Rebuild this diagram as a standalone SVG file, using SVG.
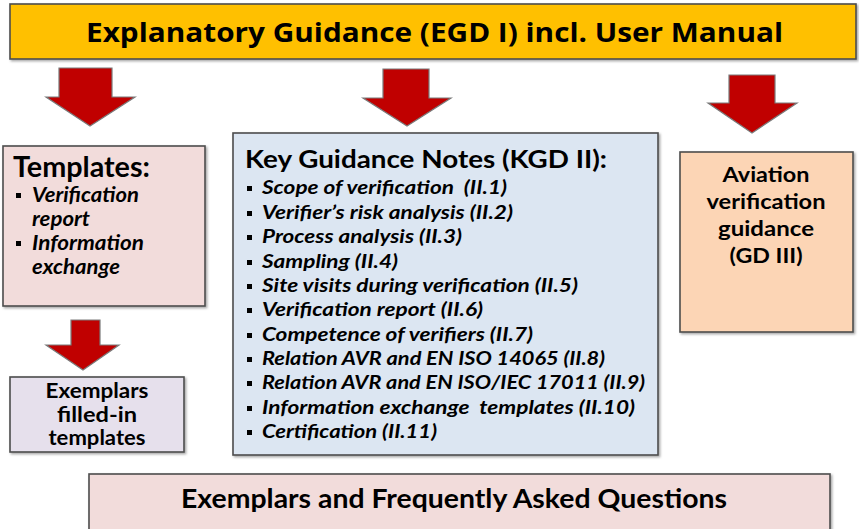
<svg xmlns="http://www.w3.org/2000/svg" width="859" height="529" viewBox="0 0 859 529">
<defs>
<filter id="sh" x="-5%" y="-5%" width="110%" height="115%">
<feDropShadow dx="1.5" dy="1.5" stdDeviation="1" flood-color="#000" flood-opacity="0.35"/>
</filter>
<style>
.box{stroke:#4d4d4d;stroke-width:1.6;filter:url(#sh)}
.arrow{fill:#C00000;stroke:#7a7a7a;stroke-width:1.2;stroke-linejoin:miter}
.t{font-family:Lato,"Open Sans","Liberation Sans",sans-serif;font-weight:bold;fill:#000}
.i{font-family:Lato,"Open Sans","Liberation Sans",sans-serif;font-weight:bold;font-style:italic;fill:#000}
.title{font-family:"Open Sans","DejaVu Sans",sans-serif;font-weight:bold;fill:#000}
.c{text-anchor:middle}
.b{fill:#000}
</style>
</defs>
<rect width="859" height="529" fill="#fff"/>

<g id="egd">
<rect class="box" x="10" y="4" width="846" height="55" fill="#FFC000"/>
<text class="title" x="86" y="42" font-size="27" textLength="697" lengthAdjust="spacingAndGlyphs">Explanatory Guidance (EGD I) incl. User Manual</text>
</g>

<g id="connectors">
<polygon class="arrow" points="59,68 112,68 112,97 135,97 90,126 46,97 59,97"/>
<polygon class="arrow" points="383,69 429,69 429,98 451,98 407,126 363,98 383,98"/>
<polygon class="arrow" points="729,75 775,75 775,103 797,103 752,133 708,103 729,103"/>
<polygon class="arrow" points="71,320 100,320 100,345 119,345 83,370 46,345 71,345"/>
</g>

<g id="templates">
<rect class="box" x="3" y="146" width="202" height="160" fill="#F2DCDB"/>
<text class="t" x="13" y="177" font-size="29" textLength="137" lengthAdjust="spacingAndGlyphs">Templates:</text>
<rect class="b" x="16" y="193" width="5" height="5"/>
<text class="i" x="32" y="202" font-size="20" textLength="107" lengthAdjust="spacingAndGlyphs">Verification</text>
<text class="i" x="32" y="226" font-size="20" textLength="58" lengthAdjust="spacingAndGlyphs">report</text>
<rect class="b" x="16" y="241" width="5" height="5"/>
<text class="i" x="32" y="250" font-size="20" textLength="112" lengthAdjust="spacingAndGlyphs">Information</text>
<text class="i" x="32" y="274" font-size="20" textLength="88" lengthAdjust="spacingAndGlyphs">exchange</text>
</g>

<g id="exemplars">
<rect class="box" x="10" y="377" width="174" height="75" fill="#E6E0EC"/>
<text class="t c" x="97" y="398" font-size="20" textLength="103" lengthAdjust="spacingAndGlyphs">Exemplars</text>
<text class="t c" x="97" y="422" font-size="20" textLength="80" lengthAdjust="spacingAndGlyphs">filled-in</text>
<text class="t c" x="97" y="445" font-size="20" textLength="97" lengthAdjust="spacingAndGlyphs">templates</text>
</g>

<g id="kgd">
<rect class="box" x="233" y="133" width="425" height="322" fill="#DCE6F2"/>
<text class="t" x="245" y="168" font-size="25" textLength="362" lengthAdjust="spacingAndGlyphs">Key Guidance Notes (KGD II):</text>
<g class="b">
<rect x="247" y="186" width="5" height="5"/>
<rect x="247" y="211" width="5" height="5"/>
<rect x="247" y="235" width="5" height="5"/>
<rect x="247" y="260" width="5" height="5"/>
<rect x="247" y="284" width="5" height="5"/>
<rect x="247" y="308" width="5" height="5"/>
<rect x="247" y="333" width="5" height="5"/>
<rect x="247" y="357" width="5" height="5"/>
<rect x="247" y="381" width="5" height="5"/>
<rect x="247" y="406" width="5" height="5"/>
<rect x="247" y="430" width="5" height="5"/>
</g>
<text class="i" x="262" y="194" font-size="19" textLength="245" lengthAdjust="spacingAndGlyphs" xml:space="preserve">Scope of verification  (II.1)</text>
<text class="i" x="262" y="219" font-size="19" textLength="251" lengthAdjust="spacingAndGlyphs">Verifier’s risk analysis (II.2)</text>
<text class="i" x="262" y="243" font-size="19" textLength="200" lengthAdjust="spacingAndGlyphs">Process analysis (II.3)</text>
<text class="i" x="262" y="268" font-size="19" textLength="136" lengthAdjust="spacingAndGlyphs">Sampling (II.4)</text>
<text class="i" x="262" y="292" font-size="19" textLength="316" lengthAdjust="spacingAndGlyphs">Site visits during verification (II.5)</text>
<text class="i" x="262" y="316" font-size="19" textLength="221" lengthAdjust="spacingAndGlyphs">Verification report (II.6)</text>
<text class="i" x="262" y="341" font-size="19" textLength="271" lengthAdjust="spacingAndGlyphs">Competence of verifiers (II.7)</text>
<text class="i" x="262" y="365" font-size="19" textLength="343" lengthAdjust="spacingAndGlyphs">Relation AVR and EN ISO 14065 (II.8)</text>
<text class="i" x="262" y="389" font-size="19" textLength="383" lengthAdjust="spacingAndGlyphs">Relation AVR and EN ISO/IEC 17011 (II.9)</text>
<text class="i" x="262" y="414" font-size="19" textLength="373" lengthAdjust="spacingAndGlyphs" xml:space="preserve">Information exchange  templates (II.10)</text>
<text class="i" x="262" y="438" font-size="19" textLength="175" lengthAdjust="spacingAndGlyphs">Certification (II.11)</text>
</g>

<g id="aviation">
<rect class="box" x="680" y="152" width="173" height="180" fill="#FCD5B5"/>
<text class="t c" x="766" y="182" font-size="21" textLength="87" lengthAdjust="spacingAndGlyphs">Aviation</text>
<text class="t c" x="766" y="209" font-size="21" textLength="119" lengthAdjust="spacingAndGlyphs">verification</text>
<text class="t c" x="766" y="236" font-size="21" textLength="96" lengthAdjust="spacingAndGlyphs">guidance</text>
<text class="t c" x="766" y="263" font-size="21" textLength="73" lengthAdjust="spacingAndGlyphs">(GD III)</text>
</g>

<g id="faq">
<rect class="box" x="89" y="474" width="741" height="60" fill="#F2DCDB"/>
<text class="t" x="181" y="508" font-size="26" textLength="546" lengthAdjust="spacingAndGlyphs">Exemplars and Frequently Asked Questions</text>
</g>
</svg>
